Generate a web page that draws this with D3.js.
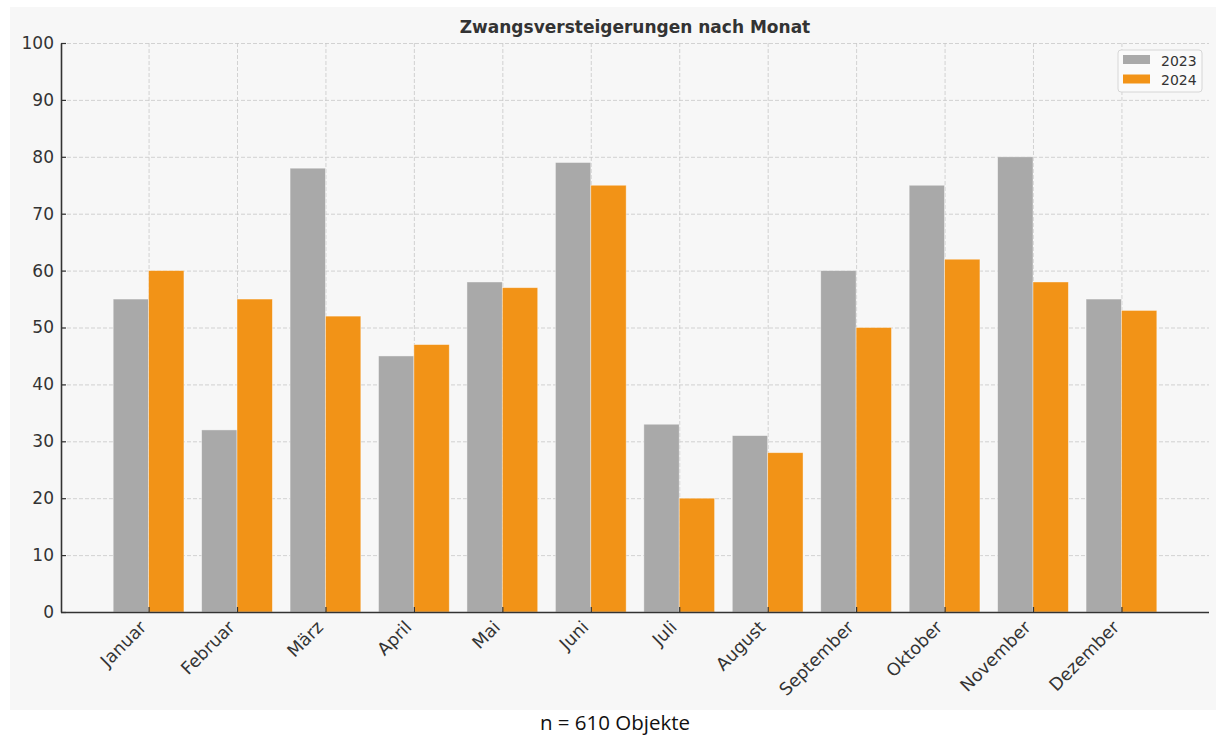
<!DOCTYPE html>
<html>
<head>
<meta charset="utf-8">
<script src="https://cdn.jsdelivr.net/npm/d3@7"></script>
<style>
  body {margin: 0; background: #fff;}
  svg {display: block;}
  .grid line {stroke: #c8c8c8; stroke-dasharray: 4,2; stroke-width: 0.8;}
  .grid path {display: none;}
  .tick text {fill: #333; font-family: 'DejaVu Sans', sans-serif;}
</style>
</head>
<body>
<script>
const months = ['Januar', 'Februar', 'März', 'April', 'Mai', 'Juni', 'Juli', 'August', 'September', 'Oktober', 'November', 'Dezember']
const values2023 = [55, 32, 78, 45, 58, 79, 33, 31, 60, 75, 80, 55]
const values2024 = [60, 55, 52, 47, 57, 75, 20, 28, 50, 62, 58, 53]
const yTicks = [0, 10, 20, 30, 40, 50, 60, 70, 80, 90, 100]
const seriesNames = ['2023', '2024']
const colors = ['#a9a9a9', '#f29317']

const svgWidth = 1216
const svgHeight = 735

const svg = d3.select('body').append('svg')
  .attr('width', svgWidth).attr('height', svgHeight)

// Hintergrund der Grafik
svg.append('rect')
  .attr('x', 10).attr('y', 7)
  .attr('width', svgWidth - 10).attr('height', 703)
  .attr('fill', '#f7f7f7')

const margin = {top: 43, right: 7, bottom: 123, left: 61}
const width = svgWidth - margin.left - margin.right
const height = svgHeight - margin.top - margin.bottom
const g = svg.append('g')
  .attr('transform', `translate(${margin.left},${margin.top})`)

const barW = 0.4
const x = d3.scaleLinear().domain([-0.99, 11.99]).range([0, width])
const y = d3.scaleLinear().domain([0, 100]).range([height, 0])

// Gitterlinien
g.append('g').attr('class', 'grid')
  .call(d3.axisLeft(y).tickValues(yTicks).tickSize(-width).tickFormat(''))
g.append('g').attr('class', 'grid')
  .attr('transform', `translate(0, ${height})`)
  .call(d3.axisBottom(x).tickValues(d3.range(months.length)).tickSize(height).tickFormat(''))
  .selectAll('line').attr('transform', `translate(0, ${-height})`)

// Balken
const series = [values2023, values2024]
series.forEach((vals, si) => {
  g.append('g').selectAll('rect').data(vals).enter().append('rect')
    .attr('x', (d, i) => x(i + (si === 0 ? -barW : 0)))
    .attr('width', x(barW) - x(0))
    .attr('y', d => y(d))
    .attr('height', d => height - y(d))
    .attr('fill', colors[si])
    .attr('stroke', '#fff').attr('stroke-opacity', 0.5).attr('stroke-width', 0.8)
})

// x-Achse
const xAxis = g.append('g')
  .attr('transform', `translate(0, ${height})`)
  .call(d3.axisBottom(x).tickValues(d3.range(months.length)).tickFormat(i => months[i])
    .tickSizeInner(-5).tickSizeOuter(0))
xAxis.select('.domain').attr('stroke', '#333').attr('stroke-width', 1.6)
  .attr('d', `M0,0.5H${width}`)
xAxis.selectAll('.tick line').attr('stroke', '#333').attr('stroke-width', 1.2)
xAxis.selectAll('.tick text')
  .style('font-size', '17.5px')
  .attr('text-anchor', 'end')
  .attr('transform', 'translate(-6, 12) rotate(-45)')
  .attr('dy', '0.35em').attr('y', 0).attr('x', 0)

// y-Achse
const yAxis = g.append('g')
  .call(d3.axisLeft(y).tickValues(yTicks).tickSizeInner(-5).tickSizeOuter(0).tickPadding(7))
yAxis.select('.domain').attr('stroke', '#333').attr('stroke-width', 1.6)
yAxis.selectAll('.tick line').attr('stroke', '#333').attr('stroke-width', 1.2)
yAxis.selectAll('.tick text').style('font-size', '17px')

// Titel
svg.append('text')
  .attr('x', 635).attr('y', 33)
  .attr('text-anchor', 'middle')
  .attr('font-family', 'DejaVu Sans, sans-serif')
  .attr('font-weight', 'bold').attr('font-size', 17)
  .attr('fill', '#333')
  .text('Zwangsversteigerungen nach Monat')

// Legende
const legend = svg.append('g').attr('transform', 'translate(1118, 50)')
legend.append('rect')
  .attr('width', 84).attr('height', 42).attr('rx', 3)
  .attr('fill', '#fafafa').attr('stroke', '#d6d6d6')
seriesNames.forEach((name, i) => {
  legend.append('rect')
    .attr('x', 5).attr('y', 5 + i * 19.5)
    .attr('width', 27).attr('height', 9)
    .attr('fill', colors[i])
  legend.append('text')
    .attr('x', 43).attr('y', 15.5 + i * 19)
    .attr('font-family', 'DejaVu Sans, sans-serif')
    .attr('font-size', 14).attr('fill', '#333')
    .text(name)
})

// Fußnote
svg.append('text')
  .attr('x', 615).attr('y', 730)
  .attr('text-anchor', 'middle')
  .attr('font-family', 'Open Sans, sans-serif')
  .attr('font-size', 20.5).attr('fill', '#111')
  .text('n = 610 Objekte')
</script>
</body>
</html>
